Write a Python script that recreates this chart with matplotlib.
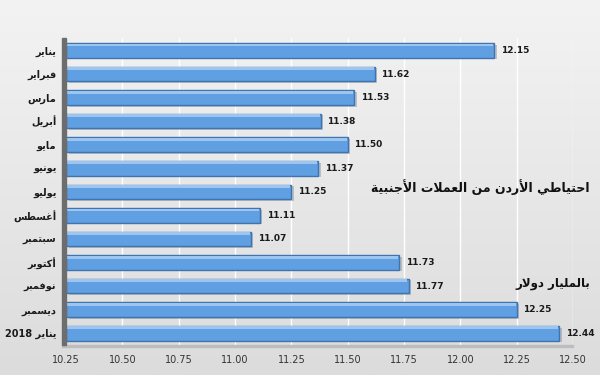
import numpy as np
import matplotlib.pyplot as plt
from matplotlib.patches import Rectangle
from matplotlib.colors import LinearSegmentedColormap

# Jordan foreign currency reserves, billion USD
months = ["يناير", "فبراير", "مارس", "أبريل", "مايو", "يونيو", "يوليو",
          "أغسطس", "سبتمبر", "أكتوبر", "نوفمبر", "ديسمبر", "يناير 2018"]
reserves = [12.15, 11.62, 11.53, 11.38, 11.50, 11.37, 11.25,
            11.11, 11.07, 11.73, 11.77, 12.25, 12.44]
xticks = [10.25, 10.50, 10.75, 11.00, 11.25, 11.50, 11.75, 12.00, 12.25, 12.50]
title_text = "احتياطي الأردن من العملات الأجنبية"
unit_text = "بالمليار دولار"

# --- minimal Arabic shaping (matplotlib has no text shaping / bidi) ---
# letter: (isolated, final, initial, medial); right-joining letters have 2 forms
FORMS = {
    "ا": (0xFE8D, 0xFE8E), "أ": (0xFE83, 0xFE84), "إ": (0xFE87, 0xFE88),
    "آ": (0xFE81, 0xFE82), "ب": (0xFE8F, 0xFE90, 0xFE91, 0xFE92),
    "ة": (0xFE93, 0xFE94), "ت": (0xFE95, 0xFE96, 0xFE97, 0xFE98),
    "ث": (0xFE99, 0xFE9A, 0xFE9B, 0xFE9C), "ج": (0xFE9D, 0xFE9E, 0xFE9F, 0xFEA0),
    "ح": (0xFEA1, 0xFEA2, 0xFEA3, 0xFEA4), "خ": (0xFEA5, 0xFEA6, 0xFEA7, 0xFEA8),
    "د": (0xFEA9, 0xFEAA), "ذ": (0xFEAB, 0xFEAC), "ر": (0xFEAD, 0xFEAE),
    "ز": (0xFEAF, 0xFEB0), "س": (0xFEB1, 0xFEB2, 0xFEB3, 0xFEB4),
    "ش": (0xFEB5, 0xFEB6, 0xFEB7, 0xFEB8), "ص": (0xFEB9, 0xFEBA, 0xFEBB, 0xFEBC),
    "ض": (0xFEBD, 0xFEBE, 0xFEBF, 0xFEC0), "ط": (0xFEC1, 0xFEC2, 0xFEC3, 0xFEC4),
    "ظ": (0xFEC5, 0xFEC6, 0xFEC7, 0xFEC8), "ع": (0xFEC9, 0xFECA, 0xFECB, 0xFECC),
    "غ": (0xFECD, 0xFECE, 0xFECF, 0xFED0), "ف": (0xFED1, 0xFED2, 0xFED3, 0xFED4),
    "ق": (0xFED5, 0xFED6, 0xFED7, 0xFED8), "ك": (0xFED9, 0xFEDA, 0xFEDB, 0xFEDC),
    "ل": (0xFEDD, 0xFEDE, 0xFEDF, 0xFEE0), "م": (0xFEE1, 0xFEE2, 0xFEE3, 0xFEE4),
    "ن": (0xFEE5, 0xFEE6, 0xFEE7, 0xFEE8), "ه": (0xFEE9, 0xFEEA, 0xFEEB, 0xFEEC),
    "و": (0xFEED, 0xFEEE), "ى": (0xFEEF, 0xFEF0),
    "ي": (0xFEF1, 0xFEF2, 0xFEF3, 0xFEF4),
}
LAM_ALEF = {"ا": (0xFEFB, 0xFEFC), "أ": (0xFEF7, 0xFEF8),
            "إ": (0xFEF9, 0xFEFA), "آ": (0xFEF5, 0xFEF6)}


def shape_word(word):
    if not any(c in FORMS for c in word):
        return word
    # merge lam + alef into ligature tokens
    tokens = []
    i = 0
    while i < len(word):
        if word[i] == "ل" and i + 1 < len(word) and word[i + 1] in LAM_ALEF:
            tokens.append(("LA", LAM_ALEF[word[i + 1]]))
            i += 2
        else:
            tokens.append((word[i], FORMS.get(word[i])))
            i += 1
    out = []
    for k, (ch, forms) in enumerate(tokens):
        if forms is None:
            out.append(ch)
            continue
        prev = tokens[k - 1][1] if k > 0 else None
        nxt = tokens[k + 1][1] if k + 1 < len(tokens) else None
        join_prev = prev is not None and len(prev) == 4
        join_next = len(forms) == 4 and nxt is not None
        if join_prev and join_next:
            out.append(chr(forms[3]))
        elif join_prev:
            out.append(chr(forms[1]))
        elif join_next:
            out.append(chr(forms[2]))
        else:
            out.append(chr(forms[0]))
    return "".join(out)[::-1]


def ar(text):
    return " ".join(shape_word(w) for w in text.split(" ")[::-1])


plt.rcParams["font.family"] = ["DejaVu Sans"]

fig = plt.figure(figsize=(6, 3.75), dpi=100)

# soft grey background
bg = fig.add_axes([0, 0, 1, 1], zorder=-10)
grad = np.linspace(0, 1, 256).reshape(-1, 1)
bg.imshow(grad, aspect="auto", cmap=LinearSegmentedColormap.from_list(
    "bg", ["#f3f3f3", "#dcdcdc"]), extent=[0, 1, 0, 1], origin="upper")
bg.axis("off")

ax = fig.add_axes([0.11, 0.08, 0.845, 0.82])
ax.set_facecolor("none")

y = np.arange(len(months))
base = xticks[0]
widths = np.array(reserves) - base

# shadow, bar body and top highlight for a faux 3d look
ax.barh(y + 0.07, widths, left=base + 0.012, height=0.62, color="#7f8c99", alpha=0.45, zorder=2)
ax.barh(y, widths, left=base, height=0.62, color="#5f9fe2", edgecolor="#3f74ae",
        linewidth=1.0, zorder=3)
ax.barh(y - 0.23, widths - 0.01, left=base + 0.005, height=0.12, color="#9cc6f0",
        linewidth=0, zorder=4)

for yi, v in zip(y, reserves):
    ax.text(v + 0.03, yi, f"{v:.2f}", va="center", ha="left", fontsize=6.5,
            fontweight="bold", color="#1a1a1a")

ax.set_xlim(xticks[0], xticks[-1])
ax.set_ylim(12.5, -0.55)
ax.set_xticks(xticks)
ax.set_xticklabels([f"{t:.2f}" for t in xticks], fontsize=7, color="#333333")
ax.set_yticks(y)
ax.set_yticklabels([ar(m) for m in months], fontsize=7, fontweight="bold",
                   color="#1a1a1a")
ax.tick_params(length=0, pad=7)
ax.xaxis.grid(True, color="#ffffff", linewidth=1.0, zorder=0)
ax.set_axisbelow(True)
for s in ax.spines.values():
    s.set_visible(False)

# left wall and floor
ax.add_patch(Rectangle((-0.008, 0.0), 0.008, 1.0, transform=ax.transAxes,
                       color="#6d6d6d", clip_on=False, zorder=5))
ax.add_patch(Rectangle((-0.008, -0.008), 1.008, 0.008, transform=ax.transAxes,
                       color="#bdbdbd", clip_on=False, zorder=1))

fig.text(0.983, 0.50, ar(title_text), ha="right", va="center", fontsize=9,
         fontweight="bold", color="#111111")
fig.text(0.983, 0.245, ar(unit_text), ha="right", va="center", fontsize=8.5,
         fontweight="bold", color="#111111")

fig.savefig("out.png", dpi=100)
